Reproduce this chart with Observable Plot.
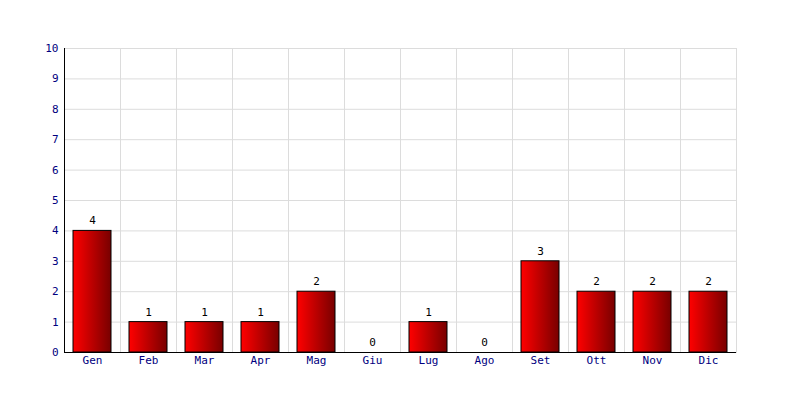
<!DOCTYPE html>
<html><head><meta charset="utf-8">
<script src="https://cdn.jsdelivr.net/npm/d3@7"></script>
<script src="https://cdn.jsdelivr.net/npm/@observablehq/plot@0.6"></script>
<style>body{margin:0;background:#fff;} svg{display:block;}</style>
</head><body><div id="chart"></div>
<script>
const months = ["Gen","Feb","Mar","Apr","Mag","Giu","Lug","Ago","Set","Ott","Nov","Dic"];
const counts = [4,1,1,1,2,0,1,0,3,2,2,2];
const yTicks = [0,1,2,3,4,5,6,7,8,9,10];
const data = months.map((m,i)=>({month:m, value:counts[i]}));

const defs = () => {
  const svgNS = "http://www.w3.org/2000/svg";
  const d = document.createElementNS(svgNS, "defs");
  d.innerHTML = `<linearGradient id="barGrad" x1="0" y1="0" x2="1" y2="0">
    <stop offset="0" stop-color="#ff0000"/><stop offset="1" stop-color="#780000"/></linearGradient>`;
  return d;
};

const plot = Plot.plot({
  width: 800, height: 400,
  marginLeft: 64, marginRight: 64, marginTop: 48, marginBottom: 48,
  style: {fontFamily: "DejaVu Sans Mono, monospace", fontSize: "11px", background: "#fff"},
  x: {type: "band", domain: months, paddingInner: 0.32, paddingOuter: 0.16, label: null, tickSize: 0, tickPadding: 4},
  y: {domain: [0,10], ticks: yTicks, label: null, tickSize: 0, tickPadding: 6, tickFormat: d3.format("d")},
  marks: [
    defs,
    Plot.gridY(yTicks, {stroke: "#dcdcdc", strokeOpacity: 1}),
    Plot.ruleX(months, {x: d => d, dx: -28, stroke: "#dcdcdc"}),
    Plot.frame({stroke: "#dcdcdc"}),
    Plot.barY(data, {x: "month", y: "value", fill: "url(#barGrad)", stroke: "#000", strokeWidth: 1}),
    Plot.text(data, {x: "month", y: "value", text: d => String(d.value), dy: -10, fill: "#000"}),
    Plot.ruleY([0], {stroke: "#000"}),
    Plot.axisX({tickSize: 0, tickPadding: 4, fill: "#000080", label: null}),
    Plot.axisY({ticks: yTicks, tickSize: 0, tickPadding: 6, fill: "#000080", label: null, tickFormat: d3.format("d")}),
    Plot.ruleX([0], {x: () => months[0], dx: -28, y1: 0, y2: 10, stroke: "#000"})
  ]
});
document.getElementById("chart").appendChild(plot);
</script></body></html>
